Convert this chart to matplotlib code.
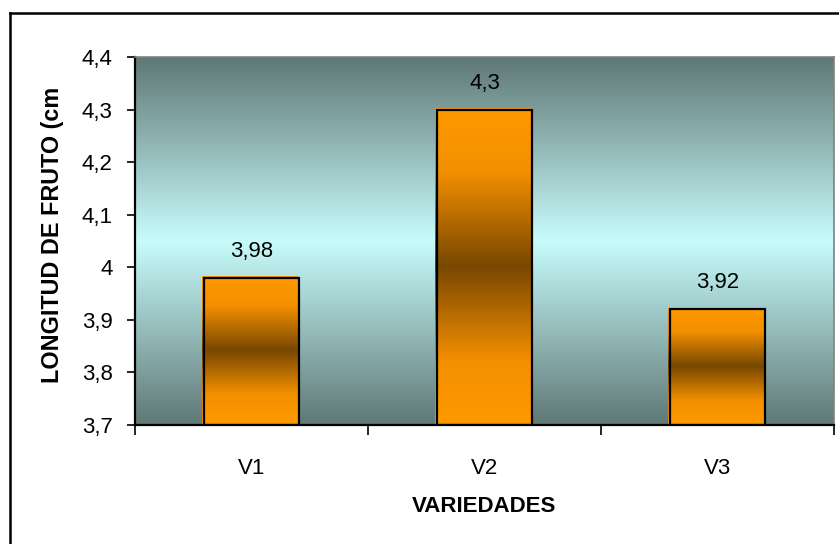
import numpy as np
import matplotlib
matplotlib.use("Agg")
import matplotlib.pyplot as plt
from matplotlib.colors import LinearSegmentedColormap
from matplotlib.lines import Line2D
from matplotlib.transforms import Bbox, offset_copy

plt.rcParams['font.family'] = ['Liberation Sans', 'DejaVu Sans']

# data
categories = ["V1", "V2", "V3"]
values = [3.98, 4.30, 3.92]
value_labels = ["3,98", "4,3", "3,92"]
y_ticks = [3.7, 3.8, 3.9, 4.0, 4.1, 4.2, 4.3, 4.4]
y_tick_labels = ["3,7", "3,8", "3,9", "4", "4,1", "4,2", "4,3", "4,4"]
x_title = "VARIEDADES"
y_title = "LONGITUD DE FRUTO (cm)"

W, H = 839, 544
fig = plt.figure(figsize=(W / 100, H / 100), dpi=100)
fig.patch.set_facecolor("white")

ax = fig.add_axes([135 / W, 1 - 425 / H, (834 - 135) / W, (425 - 57) / H])

# plot-area background: dark at top and bottom, light cyan in the middle
bg_cmap = LinearSegmentedColormap.from_list(
    "bg", [(0.0, "#5f7876"), (0.5, "#c8fcfc"), (1.0, "#5f7876")])
grad = np.linspace(0, 1, 512).reshape(-1, 1)
ax.imshow(grad, cmap=bg_cmap, extent=[0, 1, 0, 1], transform=ax.transAxes,
          aspect="auto", zorder=0, interpolation="bilinear")

x = np.arange(len(categories))
bar_width = 0.41
bars = ax.bar(x, [v - 3.7 for v in values], bottom=3.7, width=bar_width,
              facecolor="none", edgecolor="black", linewidth=1.6, zorder=3)

# bar fill: orange at the ends, dark brown through the middle
bar_cmap = LinearSegmentedColormap.from_list(
    "bar", [(0.0, "#ff9900"), (0.2, "#f39000"), (0.5, "#774700"),
            (0.8, "#f39000"), (1.0, "#ff9900")])
fill_shift = offset_copy(ax.transData, fig=fig, x=-1.5, y=1.5, units="dots")
for rect in bars:
    x0, y0 = rect.get_x(), rect.get_y()
    w, h = rect.get_width(), rect.get_height()
    ax.imshow(grad, cmap=bar_cmap, extent=[x0, x0 + w, y0, y0 + h],
              aspect="auto", zorder=2, interpolation="bilinear",
              transform=fill_shift)

for xi, v, lab in zip(x, values, value_labels):
    ax.annotate(lab, (xi, v), xytext=(0, 16), textcoords="offset pixels",
                ha="center", va="bottom", fontsize=16, zorder=5)

ax.set_xlim(-0.5, len(categories) - 0.5)
ax.set_ylim(3.7, 4.4)

ax.set_yticks(y_ticks)
ax.set_yticklabels(y_tick_labels, fontsize=16)
ax.tick_params(axis="y", direction="out", length=6, width=1.2, pad=10)

ax.set_xticks(np.arange(-0.5, len(categories), 1.0))
ax.set_xticklabels([])
ax.tick_params(axis="x", which="major", direction="out", length=7, width=1.2)
ax.set_xticks(x, minor=True)
ax.set_xticklabels(categories, minor=True, fontsize=16)
ax.tick_params(axis="x", which="minor", length=0, pad=24)

for side in ["left", "bottom"]:
    ax.spines[side].set_color("black")
    ax.spines[side].set_linewidth(1.6)
for side in ["top", "right"]:
    ax.spines[side].set_color("#808080")
    ax.spines[side].set_linewidth(1.2)

ax.set_xlabel(x_title, fontsize=16, fontweight="bold", va="center")
ax.xaxis.set_label_coords(0.5, -(507 - 425) / (425 - 57))

# vertical axis title, clipped at its upper end
yt = fig.text(53 / W, 1 - 383 / H, y_title, rotation=90, rotation_mode="anchor",
              ha="left", va="center", fontsize=16.8, fontweight="bold")
yt.set_clip_box(Bbox.from_extents(0, 0, 130, H - 88))
yt.set_clip_on(True)

# chart-area border (extends past the right and bottom edges)
fig.add_artist(Line2D([10 / W, 10 / W], [-0.1, 1 - 13 / H], transform=fig.transFigure,
                      color="black", linewidth=1.8))
fig.add_artist(Line2D([10 / W, 1.1], [1 - 13 / H, 1 - 13 / H], transform=fig.transFigure,
                      color="black", linewidth=1.8))

fig.savefig("out.png", dpi=100)
